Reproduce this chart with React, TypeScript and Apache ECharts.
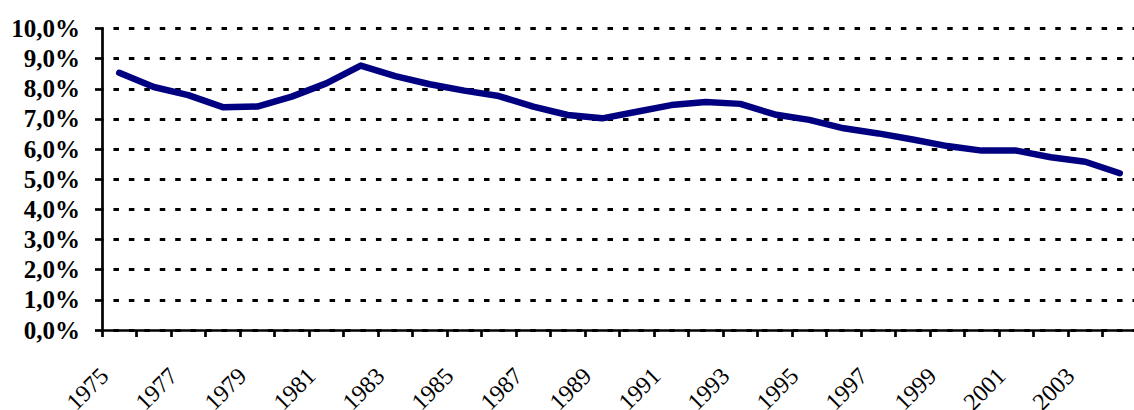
import React, { useEffect, useRef } from "react";
import * as echarts from "echarts";

const years: string[] = [
  "1975", "1976", "1977", "1978", "1979", "1980", "1981", "1982", "1983", "1984",
  "1985", "1986", "1987", "1988", "1989", "1990", "1991", "1992", "1993", "1994",
  "1995", "1996", "1997", "1998", "1999", "2000", "2001", "2002", "2003", "2004",
];
const rates: number[] = [
  8.53, 8.06, 7.79, 7.39, 7.41, 7.74, 8.18, 8.77, 8.42, 8.15,
  7.94, 7.76, 7.41, 7.13, 7.02, 7.24, 7.46, 7.56, 7.5, 7.15,
  6.97, 6.69, 6.52, 6.32, 6.1, 5.95, 5.95, 5.73, 5.58, 5.2,
];
const yMin = 0;
const yMax = 10;
const yStep = 1;

export default function App() {
  const ref = useRef<HTMLDivElement>(null);
  useEffect(() => {
    document.body.style.margin = "0";
    if (!ref.current) return;
    const chart = echarts.init(ref.current, null, { renderer: "svg" });
    chart.setOption({
      animation: false,
      backgroundColor: "#ffffff",
      grid: {
        left: 102,
        top: 28.5,
        width: 1035,
        height: 301.5,
        containLabel: false,
        outerBoundsMode: "none",
      },
      xAxis: {
        type: "category",
        data: years,
        boundaryGap: true,
        axisLine: { show: true, lineStyle: { color: "#000", width: 2.7 } },
        axisTick: { show: true, interval: 0, length: 7, lineStyle: { color: "#000", width: 2.7 } },
        axisLabel: {
          interval: 1,
          rotate: 45,
          margin: 27,
          padding: [0, 21, 0, 0],
          color: "#000",
          fontFamily: "Liberation Serif",
          fontSize: 24,
        },
        splitLine: { show: false },
      },
      yAxis: {
        type: "value",
        min: yMin,
        max: yMax,
        interval: yStep,
        axisLine: { show: true, lineStyle: { color: "#000", width: 2.7 } },
        axisTick: { show: true, length: 7, lineStyle: { color: "#000", width: 2.7 } },
        axisLabel: {
          margin: 22,
          color: "#000",
          fontFamily: "Liberation Serif",
          fontWeight: "bold",
          fontSize: 25,
          formatter: (v: number) => v.toFixed(1).replace(".", ",") + "%",
        },
        splitLine: {
          show: true,
          lineStyle: { color: "#000", width: 3, type: [5.5, 9.94], dashOffset: 4 },
        },
      },
      series: [
        {
          type: "line",
          data: rates,
          symbol: "none",
          lineStyle: { color: "#000080", width: 6.5, cap: "round", join: "round" },
          z: 5,
        },
      ],
    });
    return () => chart.dispose();
  }, []);
  return <div ref={ref} style={{ width: 1134, height: 410 }} />;
}
